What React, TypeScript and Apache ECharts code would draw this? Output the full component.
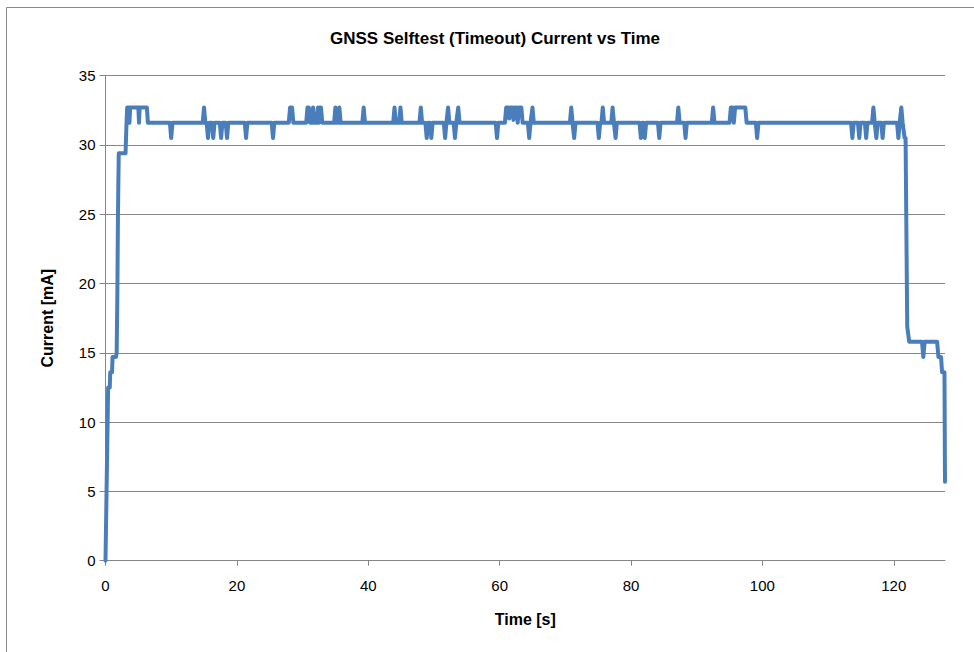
import { useEffect, useRef } from "react";
import * as echarts from "echarts";

const chartTitle = "GNSS Selftest (Timeout) Current vs Time";
const xAxisTitle = "Time [s]";
const yAxisTitle = "Current [mA]";
const xTickValues = [0, 20, 40, 60, 80, 100, 120];
const xMax = 127.8;
const yMin = 0;
const yMax = 35;
const yStep = 5;

// [time s, current mA]
const rampUp: [number, number][] = [
  [0, 0], [0.4, 12.5], [0.65, 12.5], [0.72, 13.6], [1.0, 13.6], [1.07, 14.7], [1.6, 14.7], [1.7, 15.0],
  [1.8, 19.0], [1.9, 25.0], [1.95, 27.0], [2.02, 29.4], [3.05, 29.4], [3.2, 31.6], [3.3, 32.7],
];

const plateau: [number, number][] = [
  [3.55, 32.7], [3.65, 31.6], [3.75, 32.7], [5.0, 32.7], [5.1, 31.6], [5.2, 32.7], [6.3, 32.7], [6.45, 31.6],
  [9.8, 31.6], [10.0, 30.5], [10.2, 31.6],
  [14.8, 31.6], [15.0, 32.7], [15.2, 31.6],
  [15.4, 31.6], [15.6, 30.5], [15.8, 31.6],
  [16.2, 31.6], [16.4, 30.5], [16.6, 31.6],
  [17.4, 31.6], [17.6, 30.5], [17.8, 31.6],
  [18.3, 31.6], [18.5, 30.5], [18.7, 31.6],
  [21.2, 31.6], [21.4, 30.5], [21.6, 31.6],
  [25.3, 31.6], [25.5, 30.5], [25.7, 31.6],
  [27.9, 31.6], [28.1, 32.7], [28.4, 32.7], [28.6, 31.6],
  [30.55, 31.6], [30.75, 32.7], [30.95, 32.7], [31.15, 31.6],
  [31.4, 31.6], [31.6, 32.7], [31.8, 31.6],
  [32.15, 31.6], [32.35, 32.7], [32.5, 31.6], [32.65, 32.7], [32.8, 32.7], [33.0, 31.6],
  [34.8, 31.6], [35.0, 32.7], [35.2, 31.6],
  [35.4, 31.6], [35.6, 32.7], [35.8, 31.6],
  [39.1, 31.6], [39.3, 32.7], [39.5, 31.6],
  [43.8, 31.6], [44.0, 32.7], [44.2, 31.6],
  [44.7, 31.6], [44.9, 32.7], [45.1, 31.6],
  [47.8, 31.6], [48.0, 32.7], [48.2, 31.6],
  [48.7, 31.6], [48.9, 30.5], [49.1, 31.6],
  [49.4, 31.6], [49.6, 30.5], [49.8, 31.6],
  [51.5, 31.6], [51.7, 30.5], [51.9, 31.6],
  [51.95, 31.6], [52.15, 32.7], [52.35, 31.6],
  [53.0, 31.6], [53.2, 30.5], [53.4, 31.6],
  [53.5, 31.6], [53.7, 32.7], [53.9, 31.6],
  [59.4, 31.6], [59.6, 30.5], [59.8, 31.6],
  [60.8, 31.6], [61.0, 32.7], [61.3, 32.7], [61.45, 31.9], [61.6, 32.7], [61.95, 32.7], [62.1, 31.8],
  [62.25, 32.7], [62.6, 32.7], [62.75, 31.6], [62.95, 32.7], [63.3, 32.7], [63.5, 31.6],
  [64.3, 31.6], [64.5, 30.5], [64.7, 31.6],
  [64.8, 31.6], [65.0, 32.7], [65.2, 31.6],
  [70.7, 31.6], [70.9, 32.7], [71.1, 31.6],
  [71.15, 31.6], [71.35, 30.5], [71.55, 31.6],
  [74.9, 31.6], [75.1, 30.5], [75.3, 31.6],
  [75.5, 31.6], [75.7, 32.7], [75.9, 31.6],
  [77.0, 31.6], [77.2, 32.7], [77.4, 31.6],
  [77.45, 31.6], [77.65, 30.5], [77.85, 31.6],
  [81.3, 31.6], [81.5, 30.5], [81.7, 31.6],
  [81.9, 31.6], [82.1, 30.5], [82.3, 31.6],
  [84.1, 31.6], [84.3, 30.5], [84.5, 31.6],
  [87.0, 31.6], [87.2, 32.7], [87.4, 31.6],
  [88.1, 31.6], [88.3, 30.5], [88.5, 31.6],
  [92.3, 31.6], [92.5, 32.7], [92.7, 31.6],
  [95.0, 31.6], [95.2, 32.7], [95.5, 32.7], [95.65, 31.6], [95.85, 32.7], [97.4, 32.7], [97.6, 31.6],
  [99.0, 31.6], [99.2, 30.5], [99.4, 31.6],
  [113.5, 31.6], [113.7, 30.5], [113.9, 31.6],
  [114.55, 31.6], [114.75, 30.5], [114.95, 31.6],
  [115.6, 31.6], [115.8, 30.5], [116.0, 31.6],
  [116.7, 31.6], [116.9, 32.7], [117.1, 31.6],
  [117.15, 31.6], [117.35, 30.5], [117.55, 31.6],
  [118.1, 31.6], [118.3, 30.5], [118.5, 31.6],
  [120.5, 31.6], [120.7, 30.5], [120.9, 31.6],
  [120.95, 31.6], [121.15, 32.7], [121.35, 31.6],
  [121.45, 31.6], [121.65, 30.5], [121.8, 30.5],
];

const rampDown: [number, number][] = [
  [122.05, 16.9], [122.35, 15.8], [124.3, 15.8], [124.5, 14.7], [124.7, 15.8], [126.6, 15.8],
  [126.8, 14.7], [127.2, 14.7], [127.35, 13.6], [127.72, 13.6], [127.8, 5.7],
];

const FONT = "'Liberation Sans', Arial, sans-serif";
const GRID_GRAY = "#868686";

export default function App() {
  const ref = useRef<HTMLDivElement>(null);
  useEffect(() => {
    if (!ref.current) return;
    const chart = echarts.init(ref.current, null, { renderer: "svg" });
    chart.setOption({
      animation: false,
      backgroundColor: "#ffffff",
      grid: { left: 105.5, right: 29, top: 75.6, bottom: 91.3 },
      graphic: [
        {
          type: "rect",
          shape: { x: 6.5, y: 7.5, width: 1000, height: 700 },
          style: { fill: "none", stroke: "#8a8a8a", lineWidth: 1 },
          silent: true,
          z: 0,
        },
        {
          type: "text",
          x: 495,
          y: 38,
          style: {
            text: chartTitle,
            font: `bold 17px ${FONT}`,
            fill: "#000000",
            textAlign: "center",
            textVerticalAlign: "middle",
          },
        },
      ],
      xAxis: {
        type: "value",
        min: 0,
        max: xMax,
        interval: 20,
        name: xAxisTitle,
        nameLocation: "middle",
        nameGap: 51,
        nameTextStyle: { fontFamily: FONT, fontWeight: "bold", fontSize: 16, color: "#000" },
        axisLine: { show: true, lineStyle: { color: GRID_GRAY, width: 1 } },
        axisTick: { show: true, length: 5, lineStyle: { color: GRID_GRAY }, customValues: xTickValues },
        axisLabel: {
          customValues: xTickValues,
          fontFamily: FONT,
          fontSize: 15,
          color: "#000",
          margin: 17,
        },
        splitLine: { show: false },
      },
      yAxis: {
        type: "value",
        min: yMin,
        max: yMax,
        interval: yStep,
        name: yAxisTitle,
        nameLocation: "middle",
        nameGap: 50,
        nameRotate: 90,
        nameTextStyle: { fontFamily: FONT, fontWeight: "bold", fontSize: 16, color: "#000" },
        axisLine: { show: true, lineStyle: { color: GRID_GRAY, width: 1 } },
        axisTick: { show: true, length: 6, lineStyle: { color: GRID_GRAY } },
        axisLabel: { fontFamily: FONT, fontSize: 15, color: "#000", margin: 10 },
        splitLine: { show: true, lineStyle: { color: GRID_GRAY, width: 1 } },
      },
      series: [
        {
          type: "line",
          data: [...rampUp, ...plateau, ...rampDown],
          showSymbol: false,
          symbol: "none",
          lineStyle: { color: "#4A7EBB", width: 4, join: "round", cap: "round" },
          z: 3,
        },
      ],
    });
    return () => chart.dispose();
  }, []);
  return (
    <div
      ref={ref}
      style={{ position: "fixed", left: 0, top: 0, width: 974, height: 652, background: "#fff" }}
    />
  );
}
